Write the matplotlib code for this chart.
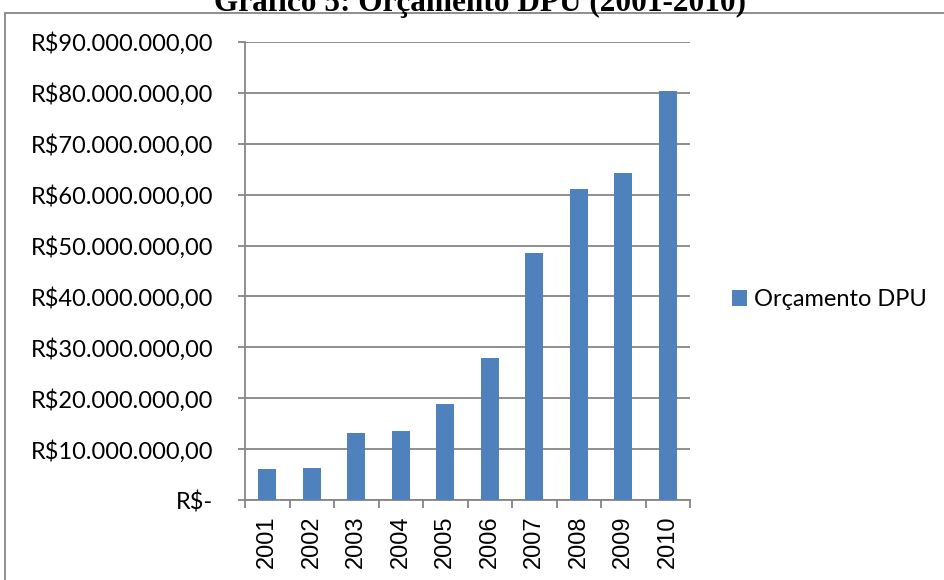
import matplotlib.pyplot as plt
from matplotlib.patches import Rectangle
from matplotlib.ticker import FuncFormatter

# dados do gráfico
anos = ['2001', '2002', '2003', '2004', '2005', '2006', '2007', '2008', '2009', '2010']
orcamento = [6.1e6, 6.3e6, 13.2e6, 13.5e6, 18.9e6, 27.9e6, 48.5e6, 61.2e6, 64.2e6, 80.3e6]
serie_nome = 'Orçamento DPU'
titulo = 'Gráfico 5: Orçamento DPU (2001-2010)'

cor_barra = '#4F81BD'
cinza = '#868686'


def fmt_reais(v, pos):
    if v == 0:
        return 'R$-'
    s = '{:,.2f}'.format(v)  # 90,000,000.00
    s = s.replace(',', 'X').replace('.', ',').replace('X', '.')
    return 'R$' + s


fig = plt.figure(figsize=(9.44, 5.8), dpi=100)

# moldura externa do gráfico
fig.patches.append(Rectangle((5 / 944, -0.1), 1.2, 1.078, transform=fig.transFigure,
                             fill=False, edgecolor=cinza, linewidth=1.3))

fig.text(480 / 944, 1 - 10.5 / 580, titulo, ha='center', va='baseline',
         fontsize=22.5, fontweight='bold', family='Liberation Serif')

ax = fig.add_axes([245 / 944, 1 - 500 / 580, 445 / 944, 458 / 580])
x = list(range(len(anos)))
ax.bar(x, orcamento, width=0.4, color=cor_barra, label=serie_nome, zorder=3)

ax.set_xlim(-0.5, len(anos) - 0.5)
ax.set_ylim(0, 90e6)
ax.set_yticks([i * 10e6 for i in range(10)])
ax.yaxis.set_major_formatter(FuncFormatter(fmt_reais))
ax.grid(axis='y', color=cinza, linewidth=1.3, zorder=0)

ax.set_xticks([i - 0.5 for i in range(len(anos) + 1)])
ax.set_xticklabels([])
ax.set_xticks(x, minor=True)
ax.set_xticklabels(anos, minor=True, rotation=90, family='Liberation Sans', fontsize=17)
ax.tick_params(axis='x', which='minor', length=0, pad=11)
ax.tick_params(axis='x', which='major', direction='out', length=5.8, color=cinza, width=1.3)
ax.tick_params(axis='y', direction='out', length=5, color=cinza, width=1.3, pad=18)
for lab in ax.get_yticklabels():
    lab.set_family('Lato')
    lab.set_fontsize(17)

for s in ['top', 'right']:
    ax.spines[s].set_visible(False)
for s in ['left', 'bottom']:
    ax.spines[s].set_color(cinza)
    ax.spines[s].set_linewidth(1.3)

ax.legend(loc='center left', bbox_to_anchor=(732 / 944, 1 - 300 / 580),
          bbox_transform=fig.transFigure, frameon=False, borderpad=0, borderaxespad=0,
          handlelength=0.65, handleheight=0.65, handletextpad=0.3,
          prop={'family': 'Lato', 'size': 17})

fig.savefig('out.png', dpi=100)
